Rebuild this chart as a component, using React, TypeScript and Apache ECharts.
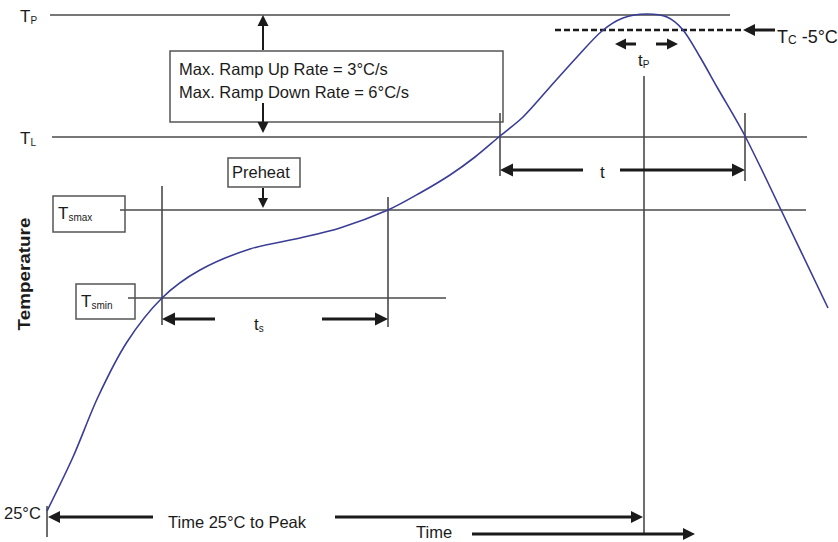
import React, { useEffect, useRef } from "react";
import * as echarts from "echarts";

// Diagram units: x = time axis (0..838), y = temperature axis drawn top-down (0..542)
const CURVE_X = [47, 73, 98, 127, 162, 200, 250, 300, 340, 388, 420, 450, 475, 500, 523, 550, 577, 602, 623, 647, 667, 683, 700, 717, 745, 782, 828];
const CURVE_Y = [511, 457, 397, 342, 298, 270, 249, 238, 228, 210, 193, 175, 157, 136, 117, 87, 57, 31, 18, 14, 17, 30, 57, 87, 136, 212, 308];

// Level lines: [x1, y1, x2, y2]
const LEVEL_LINES = [
  [50, 15, 730, 15], // TP
  [52, 137, 807, 137], // TL
  [120, 210, 806, 210], // Tsmax
  [128, 298, 446, 298], // Tsmin
  [162, 186, 162, 325],
  [388, 197, 388, 327],
  [500, 113, 500, 176],
  [745, 113, 745, 181],
  [644, 76, 644, 534],
  [47, 506, 47, 537],
];
const DASHED_LINES = [[555, 30, 742, 30]];

// Arrows: [fromX, fromY, toX, toY, headSize, width]
const ARROWS = [
  [263, 50, 263, 15, 11, 2],
  [263, 103, 263, 133, 11, 2],
  [263, 188, 263, 208, 10, 2],
  [215, 319, 162, 319, 13, 3],
  [322, 319, 388, 319, 13, 3],
  [583, 170, 500, 170, 13, 3],
  [620, 170, 745, 170, 13, 3],
  [636, 44, 615, 44, 11, 3],
  [656, 44, 678, 44, 11, 3],
  [775, 30, 743, 30, 12, 3],
  [153, 517, 48, 517, 12, 3],
  [335, 517, 643, 517, 12, 3],
  [472, 534, 695, 534, 12, 3],
];

// Boxes: [x1, y1, x2, y2]
const BOXES = [
  [170, 51, 503, 122],
  [228, 158, 300, 187],
  [53, 196, 125, 232],
  [76, 284, 135, 319],
];

// Labels
const LABEL_TEXT = [
  "{m|T}{s|P}",
  "{m|T}{s|L}",
  "{m|T}{s|smax}",
  "{m|T}{s|smin}",
  "{M|T}{S|C}{M| -5°C}",
  "{m|t}{s|P}",
  "{m|t}{s|s}",
  "{m|t}",
  "Max. Ramp Up Rate = 3°C/s",
  "Max. Ramp Down Rate = 6°C/s",
  "Preheat",
  "25°C",
  "Time 25°C to Peak",
  "Time",
];
const LABEL_X = [20, 20, 58, 81, 777, 638, 254, 600, 179, 179, 232, 4, 168, 416];
const LABEL_Y = [25, 147, 222, 310, 46, 69, 333, 181, 69, 92, 172, 513, 522, 532];
const TITLE_Y = "Temperature";

const FONT = "'Liberation Sans Narrow', 'Arial Narrow', 'Liberation Sans', Arial, sans-serif";
const INK = "#1b1b1b";
const GRAY = "#4a4a4a";

export default function App() {
  const ref = useRef<HTMLDivElement>(null);
  useEffect(() => {
    const chart = echarts.init(ref.current!, null, { renderer: "svg" });
    const rich = {
      m: { fontSize: 17, fontFamily: FONT, color: INK, lineHeight: 17, verticalAlign: "bottom" },
      s: { fontSize: 10, fontFamily: FONT, color: INK, lineHeight: 6, verticalAlign: "bottom" },
      M: { fontSize: 18, fontFamily: FONT, color: INK, lineHeight: 18, verticalAlign: "bottom" },
      S: { fontSize: 12, fontFamily: FONT, color: INK, lineHeight: 8, verticalAlign: "bottom" },
    };
    chart.setOption({
      animation: false,
      backgroundColor: "#ffffff",
      grid: { left: 0, right: 0, top: 0, bottom: 0 },
      xAxis: { type: "value", min: 0, max: 838, show: false },
      yAxis: { type: "value", min: 0, max: 542, inverse: true, show: false },
      series: [
        {
          type: "custom",
          name: "levels",
          data: LEVEL_LINES,
          silent: true,
          renderItem: (params: any, api: any) => {
            const a = api.coord([api.value(0), api.value(1)]);
            const b = api.coord([api.value(2), api.value(3)]);
            return {
              type: "line",
              shape: { x1: a[0], y1: a[1], x2: b[0], y2: b[1] },
              style: { stroke: GRAY, lineWidth: 1.6 },
            };
          },
        },
        {
          type: "custom",
          name: "dashed",
          data: DASHED_LINES,
          silent: true,
          renderItem: (params: any, api: any) => {
            const a = api.coord([api.value(0), api.value(1)]);
            const b = api.coord([api.value(2), api.value(3)]);
            return {
              type: "line",
              shape: { x1: a[0], y1: a[1], x2: b[0], y2: b[1] },
              style: { stroke: INK, lineWidth: 2.4, lineDash: [6, 3] },
            };
          },
        },
        {
          type: "custom",
          name: "boxes",
          data: BOXES,
          silent: true,
          renderItem: (params: any, api: any) => {
            const a = api.coord([api.value(0), api.value(1)]);
            const b = api.coord([api.value(2), api.value(3)]);
            return {
              type: "rect",
              shape: { x: Math.min(a[0], b[0]), y: Math.min(a[1], b[1]), width: Math.abs(b[0] - a[0]), height: Math.abs(b[1] - a[1]) },
              style: { fill: "none", stroke: "#555", lineWidth: 1.5 },
            };
          },
        },
        {
          type: "line",
          name: "profile",
          data: CURVE_X.map((x, i) => [x, CURVE_Y[i]]),
          smooth: 0.3,
          showSymbol: false,
          lineStyle: { color: "#3a3d95", width: 1.6 },
          silent: true,
        },
        {
          type: "custom",
          name: "arrows",
          data: ARROWS,
          silent: true,
          renderItem: (params: any, api: any) => {
            const a = api.coord([api.value(0), api.value(1)]);
            const b = api.coord([api.value(2), api.value(3)]);
            const h = api.value(4);
            const w = api.value(5);
            const dx = b[0] - a[0];
            const dy = b[1] - a[1];
            const len = Math.sqrt(dx * dx + dy * dy) || 1;
            const ux = dx / len;
            const uy = dy / len;
            const bx = b[0] - ux * h;
            const by = b[1] - uy * h;
            const hw = h * 0.5;
            return {
              type: "group",
              children: [
                {
                  type: "line",
                  shape: { x1: a[0], y1: a[1], x2: bx + ux * 1, y2: by + uy * 1 },
                  style: { stroke: INK, lineWidth: w },
                },
                {
                  type: "polygon",
                  shape: {
                    points: [
                      [b[0], b[1]],
                      [bx - uy * hw, by + ux * hw],
                      [bx + uy * hw, by - ux * hw],
                    ],
                  },
                  style: { fill: INK },
                },
              ],
            };
          },
        },
        {
          type: "custom",
          name: "labels",
          data: LABEL_X.map((x, i) => [x, LABEL_Y[i], i]),
          silent: true,
          renderItem: (params: any, api: any) => {
            const p = api.coord([api.value(0), api.value(1)]);
            const i = api.value(2);
            const t = LABEL_TEXT[i];
            const isRich = t.indexOf("{") === 0;
            return {
              type: "text",
              x: p[0],
              y: p[1],
              style: isRich
                ? { text: t, rich, align: "left", verticalAlign: "bottom", fill: INK }
                : { text: t, fontSize: 16.5, fontFamily: FONT, fill: INK, align: "left", verticalAlign: "middle" },
            };
          },
        },
        {
          type: "custom",
          name: "title",
          data: [[25, 274]],
          silent: true,
          renderItem: (params: any, api: any) => {
            const p = api.coord([api.value(0), api.value(1)]);
            return {
              type: "text",
              x: p[0],
              y: p[1],
              rotation: Math.PI / 2,
              scaleX: 1.18,
              style: { text: TITLE_Y, fontSize: 16, fontWeight: "bold", fontFamily: FONT, fill: INK, align: "center", verticalAlign: "middle" },
            };
          },
        },
      ],
    });
    return () => chart.dispose();
  }, []);
  return (
    <div
      ref={ref}
      style={{ position: "fixed", left: 0, top: 0, width: 838, height: 542, background: "#fff" }}
    />
  );
}
